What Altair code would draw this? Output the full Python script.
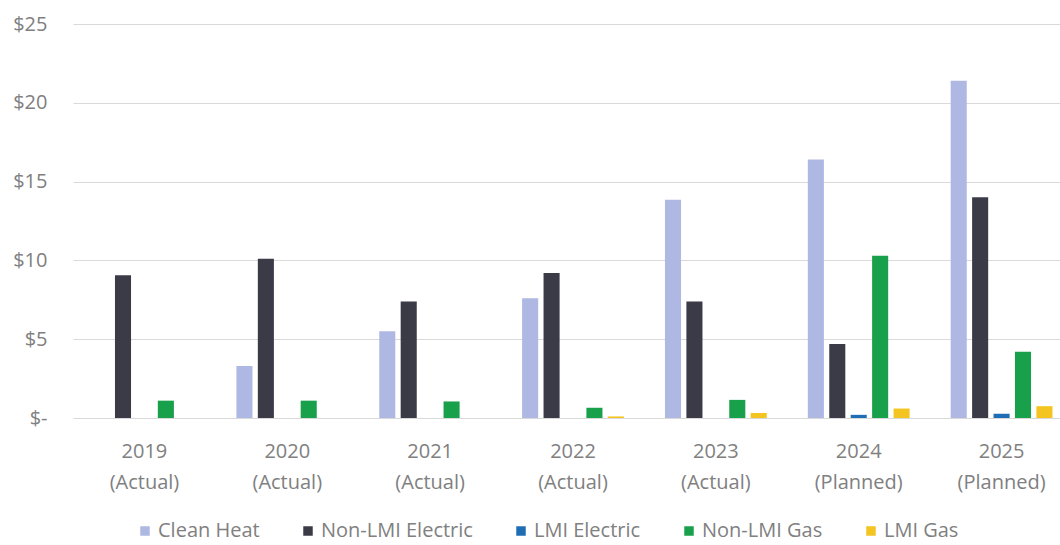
import altair as alt
import pandas as pd

# Program years (two-line axis labels, split on "|")
years = [
    "2019|(Actual)", "2020|(Actual)", "2021|(Actual)", "2022|(Actual)",
    "2023|(Actual)", "2024|(Planned)", "2025|(Planned)",
]

# Funding by program, in $ millions
series_names = ["Clean Heat", "Non-LMI Electric", "LMI Electric", "Non-LMI Gas", "LMI Gas"]
clean_heat = [0.0, 3.3, 5.5, 7.6, 13.85, 16.4, 21.4]
non_lmi_electric = [9.05, 10.1, 7.4, 9.2, 7.4, 4.7, 14.0]
lmi_electric = [0.0, 0.0, 0.0, 0.0, 0.0, 0.2, 0.27]
non_lmi_gas = [1.1, 1.1, 1.05, 0.65, 1.15, 10.3, 4.2]
lmi_gas = [0.0, 0.0, 0.0, 0.1, 0.32, 0.6, 0.75]

series_colors = ["#aeb8e2", "#3a3b47", "#1f6db4", "#19a04b", "#f4c520"]
y_ticks = [0, 5, 10, 15, 20, 25]

rows = []
for name, values in zip(series_names,
                        [clean_heat, non_lmi_electric, lmi_electric, non_lmi_gas, lmi_gas]):
    for year, v in zip(years, values):
        rows.append({"year": year, "program": name, "amount": v})
df = pd.DataFrame(rows)

FONT = "Open Sans"
TEXT = "#808080"

chart = (
    alt.Chart(df)
    .mark_bar()
    .encode(
        x=alt.X(
            "year:N",
            sort=years,
            title=None,
            scale=alt.Scale(range=[0, 1000], paddingInner=0.25, paddingOuter=0.125),
            axis=alt.Axis(
                labelExpr="split(datum.label, '|')",
                labelAngle=0,
                labelFont=FONT,
                labelFontSize=20,
                labelColor=TEXT,
                labelLineHeight=31,
                labelPadding=23,
                ticks=False,
                domain=False,
                grid=False,
            ),
        ),
        xOffset=alt.XOffset(
            "program:N",
            sort=series_names,
            scale=alt.Scale(paddingInner=0.25, paddingOuter=0.125),
        ),
        y=alt.Y(
            "amount:Q",
            title=None,
            scale=alt.Scale(domain=[0, 25], nice=False),
            axis=alt.Axis(
                values=y_ticks,
                labelExpr="datum.value == 0 ? '$-' : '$' + datum.value",
                labelFont=FONT,
                labelFontSize=20,
                labelColor=TEXT,
                labelPadding=26,
                ticks=False,
                domain=False,
                grid=True,
                gridColor="#d9d9d9",
                gridWidth=1.2,
            ),
        ),
        color=alt.Color(
            "program:N",
            sort=series_names,
            scale=alt.Scale(domain=series_names, range=series_colors),
            legend=alt.Legend(
                title=None,
                orient="none",
                direction="horizontal",
                legendX=62,
                legendY=497,
                symbolType="square",
                symbolSize=90,
                symbolStrokeWidth=0,
                labelFont=FONT,
                labelFontSize=20,
                labelColor=TEXT,
                labelOffset=3,
                columnPadding=38,
            ),
        ),
    )
    .properties(
        width=987,
        height=394,
        autosize=alt.AutoSizeParams(type="none"),
        padding={"left": 73, "top": 24, "right": 0, "bottom": 127},
    )
    .configure(background="white")
    .configure_view(stroke="transparent", strokeWidth=0)
)

chart.save("out.html", embed_options={"renderer": "svg", "actions": False})
